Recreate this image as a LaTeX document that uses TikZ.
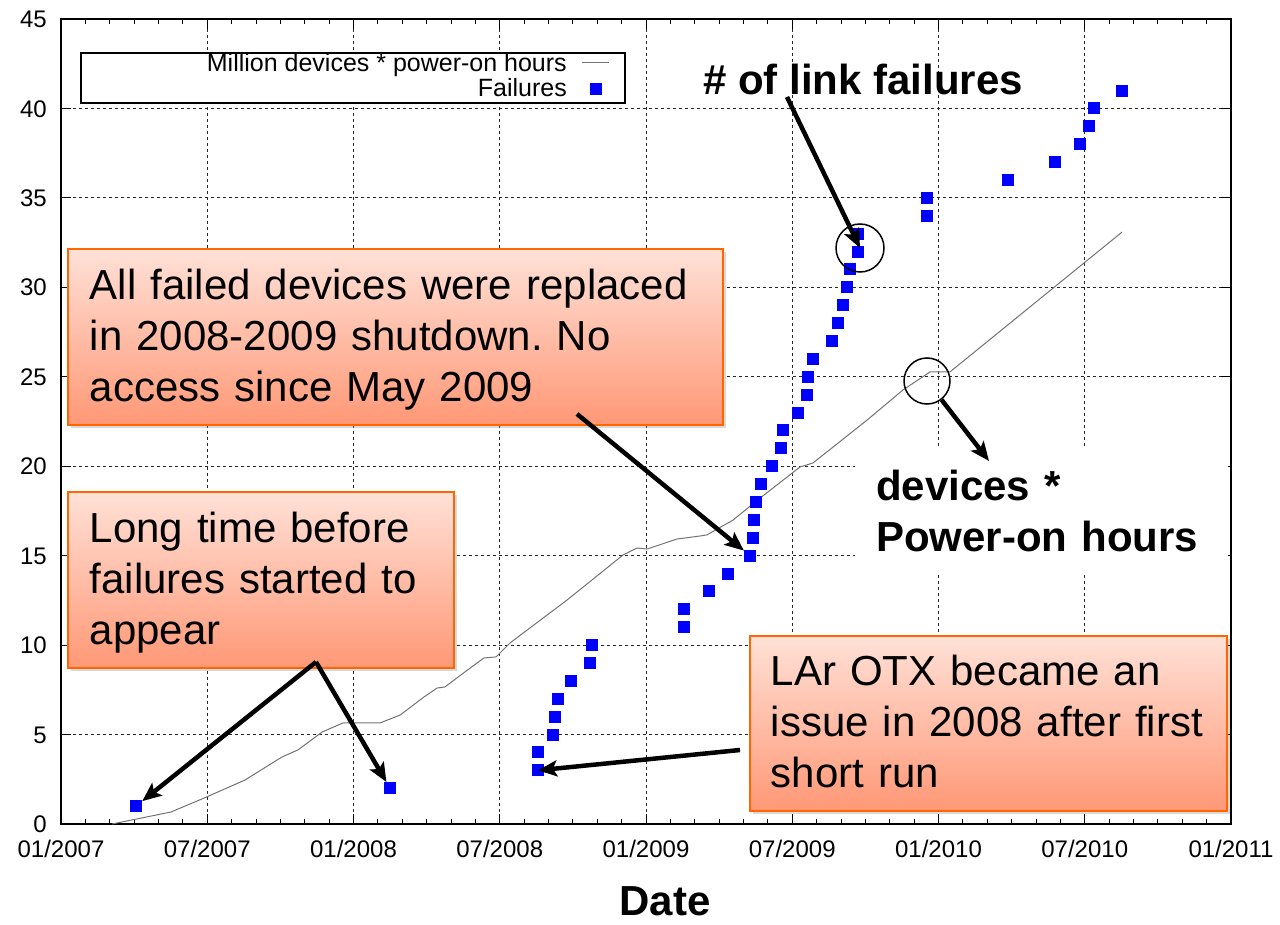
\documentclass[tikz,border=0pt]{standalone}
\usepackage{fontspec}
\setmainfont{Liberation Sans}
\usepackage{tikz}
\usetikzlibrary{
    arrows.meta,
    shadows
}
\usepackage{xcolor}
\definecolor{calloutedge}{RGB}{255,102,0}
\definecolor{callouttop}{RGB}{255,225,215}
\definecolor{calloutbot}{RGB}{255,152,118}
\definecolor{failblue}{RGB}{0,0,255}
\definecolor{hoursgray}{RGB}{115,115,115}
\newcommand{\topgap}[1]{\rule{0pt}{#1}}
\newcommand{\botgap}[1]{\rule[-#1]{0pt}{0pt}}
\frenchspacing

\begin{document}
\begin{tikzpicture}[x=1pt, y=-1pt,
    every node/.style={inner sep=0pt},
    ticklab/.style={font=\fontsize{24}{28}\selectfont},
    leglab/.style={font=\fontsize{25}{29}\selectfont},
    gridline/.style={black!85, line width=0.9pt, dash pattern=on 3pt off 3pt},
    fail/.style={rectangle, fill=failblue, minimum size=12pt},
    callout/.style={rectangle, draw=calloutedge, line width=1.8pt,
        top color=callouttop, bottom color=calloutbot,
        drop shadow={shadow xshift=3pt, shadow yshift=-3pt, opacity=0.3},
        anchor=north west, inner xsep=22pt, inner ysep=0pt, align=left,
        font=\fontsize{42}{51}\selectfont},
    note/.style={font=\fontsize{42}{51}\selectfont\bfseries},
    pointer/.style={line width=4.5pt, -{Stealth[length=19pt, width=16pt, inset=4pt]}},
    ring/.style={circle, draw, line width=1.5pt, minimum size=48pt}
]
\useasboundingbox (0,0) rectangle (1280,925);

% Plot area (months since 01/2007, values)
\begin{scope}[shift={(61,824)}, x=24.375pt, y=17.889pt]
    % grid
    \foreach \m in {6,12,...,42} {\draw[gridline] (\m,0) -- (\m,45);}
    \foreach \v in {5,10,...,40} {\draw[gridline] (0,\v) -- (48,\v);}

    % ticks
    \foreach \m in {1,...,47} {\draw[line width=1pt] (\m,0) -- ++(0,5pt) (\m,45) -- ++(0,-5pt);}
    \foreach \m in {6,12,...,42} {\draw[line width=1pt] (\m,0) -- ++(0,10pt) (\m,45) -- ++(0,-10pt);}
    \foreach \v in {5,10,...,40} {\draw[line width=1pt] (0,\v) -- ++(10pt,0) (48,\v) -- ++(-10pt,0);}
    \draw[line width=1.6pt] (0,0) rectangle (48,45);

    % tick labels
    \foreach \yr [count=\k from 0] in {2007,...,2010} {
        \node[ticklab, anchor=base] (xa\k) at (12*\k,0) [yshift=-33pt] {01/\yr};
        \node[ticklab, anchor=base] (xb\k) at (12*\k+6,0) [yshift=-33pt] {07/\yr};
    }
    \node[ticklab, anchor=base] (xend) at (48,0) [yshift=-33pt] {01/2011};
    \foreach \v in {0,5,...,45} {\node[ticklab, anchor=base east] (yl\v) at (0,\v) [xshift=-14pt, yshift=-8.6pt] {\v};}

    % devices * power-on hours
    \draw[hoursgray, line width=1pt] (2.09,0) -- (4.51,0.67) -- (5.87,1.45) -- (7.55,2.46)
        -- (9.07,3.75) -- (9.72,4.14) -- (10.71,5.14) -- (11.57,5.65) -- (13.09,5.65)
        -- (13.91,6.09) -- (14.89,7.10) -- (15.43,7.60) -- (15.75,7.66) -- (16.57,8.50)
        -- (17.35,9.28) -- (17.85,9.34) -- (18.42,10.12) -- (20.76,12.52) -- (23.06,15.04)
        -- (23.63,15.43) -- (24.04,15.37) -- (25.27,15.93) -- (26.22,16.10) -- (26.50,16.16)
        -- (27.57,16.99) -- (28.68,18.22) -- (30.32,19.96) -- (30.85,20.18) -- (33.07,22.58)
        -- (34.54,24.26) -- (35.65,25.27) -- (36.47,25.27) -- (43.53,33.09);

    % failures
    \foreach \m/\v in {3.08/1, 13.5/2, 19.57/3, 19.57/4, 20.18/5, 20.27/6, 20.39/7,
        20.92/8, 21.70/9, 21.78/10, 25.56/11, 25.56/12, 26.58/13, 27.36/14, 28.27/15,
        28.39/16, 28.43/17, 28.51/18, 28.72/19, 29.17/20, 29.54/21, 29.62/22, 30.24/23,
        30.60/24, 30.65/25, 30.85/26, 31.63/27, 31.88/28, 32.08/29, 32.25/30, 32.37/31,
        32.70/32, 32.70/33, 35.53/34, 35.53/35, 38.85/36, 40.78/37, 41.80/38, 42.17/39,
        42.38/40, 43.53/41} {\node[fail] (f\v) at (\m,\v) {};}
\end{scope}

% Legend
\node[draw, line width=1.6pt, fill=white, anchor=north west, minimum width=544pt, minimum height=50pt] (legend) at (80,52) {};
\node[leglab, anchor=base east] (leghours) at (567,72) {Million devices * power-on hours};
\draw[hoursgray, line width=1pt] (582,63) -- (609,63);
\node[leglab, anchor=base east] (legfails) at (567,97) {Failures};
\node[fail] (legsquare) at (596,89) {};

% Callouts
\node[callout, text width=611pt] (boxA) at (67,248)
    {\topgap{51pt}All failed devices were replaced\\in 2008-2009 shutdown. No\\access since May 2009\botgap{23pt}};
\node[callout, text width=342pt] (boxB) at (67,491)
    {\topgap{51pt}Long time before\\failures started to\\appear\botgap{23pt}};
\node[callout, text width=435pt, inner xsep=21pt] (boxC) at (749,635)
    {\topgap{50pt}LAr OTX became an\\issue in 2008 after first\\short run\botgap{23pt}};

% Bold notes
\node[note, fill=white, anchor=north west, inner xsep=21pt, text width=331pt, align=left] (hours) at (855,448)
    {\topgap{52pt}devices *\\Power-on hours\botgap{22pt}};
\node[note, anchor=base west] (linkfail) at (703,95) {\# of link failures};
\node[note, anchor=base] (xlabel) at (665,915) {Date};

% Rings
\node[ring] (ringF) at (860,248) {};
\node[ring, minimum size=46pt] (ringH) at (927,381) {};

% Arrows
\coordinate (linkTail) at (787,97);
\coordinate (boxATail) at (577,414);
\coordinate (boxBTail) at (316,662);
\coordinate (boxCTail) at (740,750);
\coordinate (hoursTip) at (989,461);
\draw[pointer] (linkTail) -- (ringF.center);
\draw[pointer] (boxATail) -- (f15);
\draw[pointer] (boxBTail) -- (f1);
\draw[pointer] (boxBTail) -- (f2);
\draw[pointer] (boxCTail) -- (f3.center);
\draw[pointer] (ringH) -- (hoursTip);

\end{tikzpicture}
\end{document}
